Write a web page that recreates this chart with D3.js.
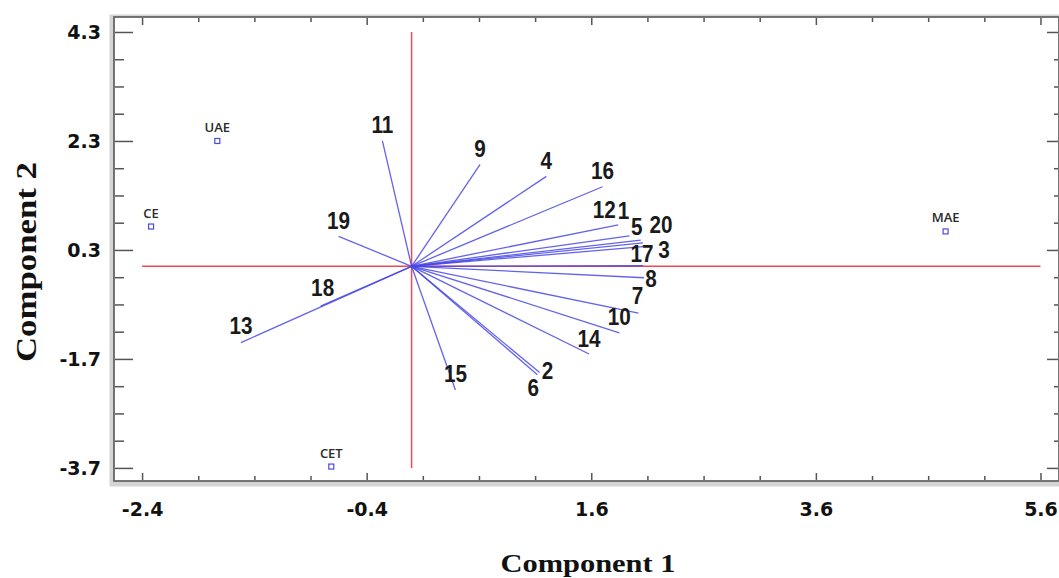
<!DOCTYPE html>
<html>
<head>
<meta charset="utf-8">
<script src="https://cdn.jsdelivr.net/npm/d3@7"></script>
<style>
body{margin:0;background:#fff;}
</style>
</head>
<body>
<svg id="biplot"></svg>
<script>
var width=1059, height=578;

// loadings (variables 1..20) on component 1 / 2
var varNames=["1","2","3","4","5","6","7","8","9","10","11","12","13","14","15","16","17","18","19","20"];
var varComp1=[1.94,1.14,2.06,1.20,2.04,1.12,2.02,2.07,0.61,1.85,-0.26,1.84,-1.52,1.58,0.39,1.70,2.06,-0.81,-0.65,2.06];
var varComp2=[0.56,-1.95,0.36,1.65,0.48,-1.99,-0.86,-0.21,1.87,-1.22,2.30,0.76,-1.40,-1.61,-2.27,1.46,0.01,-0.73,0.55,0.43];

// samples
var sampleNames=["UAE","CE","CET","MAE"];
var sampleComp1=[-1.73,-2.32,-0.715,4.755];
var sampleComp2=[2.30,0.73,-3.675,0.64];

// axis ticks
var xTicks=[-2.4,-0.4,1.6,3.6,5.6];
var yTicks=[-3.7,-1.7,0.3,2.3,4.3];

// label nudges (px) where the default (above the tip) is not used
var labelNudge={"12":[-14,-15],"1":[-6,-25],"5":[-4,-14],"20":[18,-18],"3":[21,3],
  "17":[-1,-12],"8":[7,1],"7":[-1,-18],"2":[8,-2],"6":[-4,13],"18":[2,-19],"13":[0,-17]};

var pLeft=114, pRight=1059, pTop=17, pBottom=481;

var svg=d3.select("#biplot").attr("width",width).attr("height",height);

var x=d3.scaleLinear().domain([-2.65,5.765]).range([pLeft,pRight]);
var y=d3.scaleLinear().domain([-3.94,4.575]).range([pBottom,pTop]);

var fmt=function(d){return d.toFixed(1);};
var xMinor=d3.range(xTicks[0],xTicks[xTicks.length-1]+0.01,0.5).filter(function(v){return xTicks.every(function(t){return Math.abs(t-v)>0.01;});});
var yMinor=d3.range(yTicks[0],yTicks[yTicks.length-1]+0.01,0.5).filter(function(v){return yTicks.every(function(t){return Math.abs(t-v)>0.01;});});

//frame shadow + frame
svg.append("rect").attr("x",pLeft-2).attr("y",pTop).attr("width",pRight-pLeft+4).attr("height",pBottom-pTop+3)
  .attr("fill","none").attr("stroke","#d4d4d4").attr("stroke-width",5);
svg.append("rect").attr("x",pLeft).attr("y",pTop).attr("width",pRight-pLeft).attr("height",pBottom-pTop)
  .attr("fill","#fff").attr("stroke","#666").attr("stroke-width",1.8);

function tickGroup(axis,tx,ty){
  var g=svg.append("g").attr("transform","translate("+tx+","+ty+")").call(axis);
  g.select(".domain").remove();
  g.selectAll("line").attr("stroke","#555").attr("stroke-width",1.5);
  return g;
}

// left axis (ticks pointing in, labels out)
var gl=tickGroup(d3.axisLeft(y).tickValues(yTicks).tickSize(-18).tickPadding(14).tickFormat(fmt),pLeft+1,0);
gl.selectAll("text").attr("font-family","DejaVu Sans").attr("font-weight","bold").attr("font-size","19px").attr("fill","#111");
tickGroup(d3.axisLeft(y).tickValues(yMinor).tickSize(-9).tickFormat(""),pLeft+1,0);

// bottom axis
var gb=tickGroup(d3.axisBottom(x).tickValues(xTicks).tickSize(-7).tickPadding(23).tickFormat(fmt),0,pBottom-1);
gb.selectAll("text").attr("font-family","DejaVu Sans").attr("font-weight","bold").attr("font-size","19px").attr("fill","#111");
tickGroup(d3.axisBottom(x).tickValues(xMinor).tickSize(-4).tickFormat(""),0,pBottom-1);

// top axis
tickGroup(d3.axisTop(x).tickValues(xTicks).tickSize(-7).tickFormat(""),0,pTop+1);
tickGroup(d3.axisTop(x).tickValues(xMinor).tickSize(-4).tickFormat(""),0,pTop+1);

// right axis
tickGroup(d3.axisRight(y).tickValues(yTicks).tickSize(-11).tickFormat(""),pRight-1,0);
tickGroup(d3.axisRight(y).tickValues(yMinor).tickSize(-4).tickFormat(""),pRight-1,0);

// red reference lines at 0
svg.append("line").attr("x1",x(xTicks[0])).attr("x2",x(xTicks[xTicks.length-1]))
  .attr("y1",y(0)).attr("y2",y(0)).attr("stroke","#ec4b55").attr("stroke-width",1.5);
svg.append("line").attr("x1",x(0)).attr("x2",x(0))
  .attr("y1",y(yTicks[0])).attr("y2",y(yTicks[yTicks.length-1])).attr("stroke","#ec4b55").attr("stroke-width",1.5);

// loading vectors
var vars=varNames.map(function(n,i){return {name:n,c1:varComp1[i],c2:varComp2[i]};});
svg.selectAll(".vec").data(vars).enter().append("line")
  .attr("class","vec")
  .attr("x1",x(0)).attr("y1",y(0))
  .attr("x2",function(d){return x(d.c1);})
  .attr("y2",function(d){return y(d.c2);})
  .attr("stroke","#4848e6").attr("stroke-opacity",0.85).attr("stroke-width",1.3);

svg.selectAll(".vlab").data(vars).enter().append("text")
  .attr("class","vlab")
  .attr("text-anchor","middle")
  .attr("transform",function(d){var n=labelNudge[d.name]||[0,-16];
    return "translate("+(x(d.c1)+n[0])+","+(y(d.c2)+n[1]+8.5)+") scale(0.9,1)";})
  .attr("font-family","Liberation Sans, Arial, sans-serif").attr("font-weight","bold")
  .attr("font-size","23px").attr("fill","#1a1a1a")
  .text(function(d){return d.name;});

// sample points
var samples=sampleNames.map(function(n,i){return {name:n,c1:sampleComp1[i],c2:sampleComp2[i]};});
svg.selectAll(".pt").data(samples).enter().append("rect")
  .attr("class","pt")
  .attr("x",function(d){return x(d.c1)-2.5;})
  .attr("y",function(d){return y(d.c2)-2.5;})
  .attr("width",5).attr("height",5)
  .attr("fill","#fff").attr("stroke","#4a4ae0").attr("stroke-width",1.2);
svg.selectAll(".plab").data(samples).enter().append("text")
  .attr("class","plab")
  .attr("text-anchor","middle")
  .attr("x",function(d){return x(d.c1);})
  .attr("y",function(d){return y(d.c2)-9;})
  .attr("font-family","Open Sans, sans-serif").attr("font-weight","600").attr("font-size","13px").attr("fill","#2a2a2a")
  .text(function(d){return d.name;});

// axis titles
svg.append("text").attr("x",588).attr("y",572).attr("text-anchor","middle")
  .attr("font-family","Liberation Serif, Times New Roman, serif").attr("font-weight","bold")
  .attr("font-size","26px").attr("textLength",175).attr("lengthAdjust","spacingAndGlyphs")
  .attr("fill","#111").text("Component 1");
svg.append("text").attr("transform","translate(36,262) rotate(-90)").attr("text-anchor","middle")
  .attr("font-family","Liberation Serif, Times New Roman, serif").attr("font-weight","bold")
  .attr("font-size","29px").attr("textLength",200).attr("lengthAdjust","spacingAndGlyphs")
  .attr("fill","#111").text("Component 2");
</script>
</body>
</html>
